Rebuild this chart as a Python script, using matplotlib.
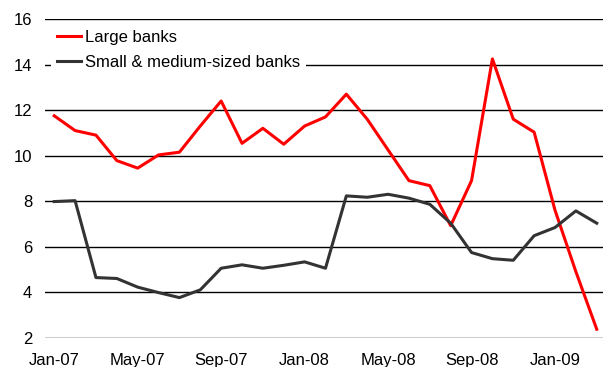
import numpy as np
import matplotlib.pyplot as plt

plt.rcParams['font.family'] = ['Liberation Sans', 'DejaVu Sans']

months = ['Jan-07', 'Feb-07', 'Mar-07', 'Apr-07', 'May-07', 'Jun-07', 'Jul-07',
          'Aug-07', 'Sep-07', 'Oct-07', 'Nov-07', 'Dec-07', 'Jan-08', 'Feb-08',
          'Mar-08', 'Apr-08', 'May-08', 'Jun-08', 'Jul-08', 'Aug-08', 'Sep-08',
          'Oct-08', 'Nov-08', 'Dec-08', 'Jan-09', 'Feb-09', 'Mar-09']

large = [11.75, 11.1, 10.9, 9.78, 9.45, 10.03, 10.15, 11.3, 12.4, 10.54, 11.2,
         10.5, 11.3, 11.7, 12.7, 11.6, 10.25, 8.9, 8.68, 6.92, 8.9, 14.25, 11.6,
         11.03, 7.6, 4.9, 2.37]
small = [7.98, 8.02, 4.64, 4.6, 4.22, 3.98, 3.76, 4.1, 5.05, 5.2, 5.05, 5.18,
         5.33, 5.05, 8.23, 8.17, 8.3, 8.13, 7.86, 7.03, 5.74, 5.47, 5.4, 6.48,
         6.84, 7.57, 7.03]

x = np.arange(len(months))

fig = plt.figure(figsize=(6.03, 3.67), dpi=100)
ax = fig.add_axes([0.074, 0.08, 0.926, 0.868])

ax.plot(x, large, color='#ff0000', lw=2.2, label='Large banks', zorder=3)
ax.plot(x, small, color='#333333', lw=2.2, label='Small & medium-sized banks', zorder=3)

ax.set_ylim(2, 16)
ax.set_yticks(np.arange(2, 17, 2))
ax.set_xlim(-0.46, 26.3)
ax.set_xticks(x[::4])
ax.set_xticklabels(months[::4])

ax.grid(axis='y', color='black', lw=1)
ax.set_axisbelow(True)
for s in ax.spines.values():
    s.set_visible(False)
ax.tick_params(axis='both', length=0, labelsize=12)
ax.tick_params(axis='x', pad=11)
ax.tick_params(axis='y', pad=9)

# legend sits just under the top gridline and hides the 14 line
leg = ax.legend(loc='upper left', bbox_to_anchor=(0.012, 0.985), fontsize=12,
                frameon=True, fancybox=False, edgecolor='white', framealpha=1,
                handlelength=1.45, handletextpad=0.25, labelspacing=0.63,
                borderaxespad=0, borderpad=0.35)
leg.get_frame().set_linewidth(0)

plt.savefig('out.png', dpi=100)
